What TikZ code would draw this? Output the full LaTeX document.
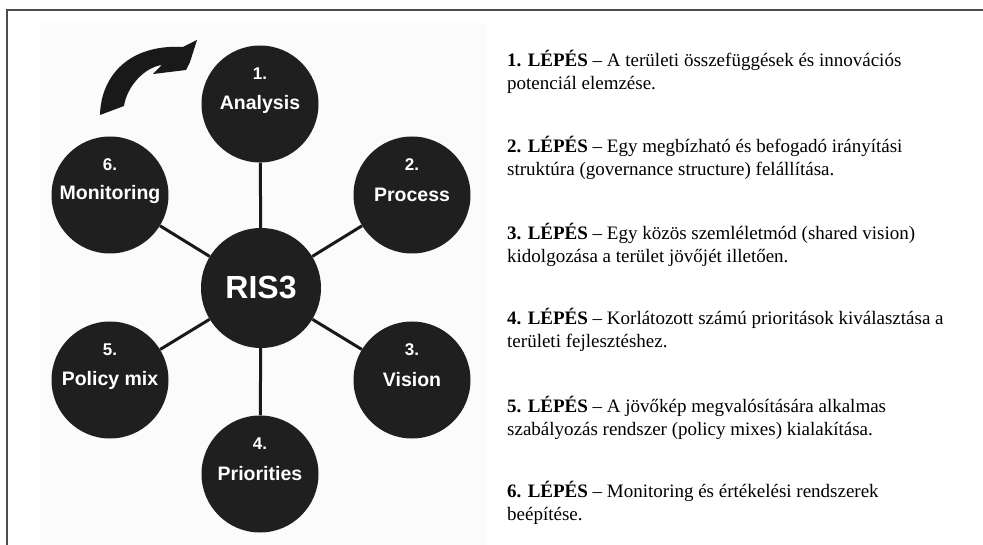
\documentclass[tikz,border=0pt]{standalone}
\usepackage{fontspec}
\setmainfont{Liberation Serif}
\newfontfamily\labelfont{Liberation Sans}
\usetikzlibrary{positioning,calc}

\tikzset{
  stepnode/.style={circle,fill=black!88,minimum size=117pt,inner sep=0pt,
                   text=white,font=\labelfont\bfseries\fontsize{19.5}{22}\selectfont},
  numlabel/.style={text=white,inner sep=0pt,
                   font=\labelfont\bfseries\fontsize{17}{20}\selectfont},
  spoke/.style={line width=3pt,black!90},
  steptext/.style={anchor=base west,align=left,inner sep=0pt,
                   font=\fontsize{19}{23}\selectfont},
}

\begin{document}
\begin{tikzpicture}[x=1pt,y=-1pt]
\useasboundingbox (0,0) rectangle (983,545);
% Frame: only the top and the left edge show
\draw[line width=2pt,black!70] (983,10) -- (7,10) -- (7,545);
% Faint backdrop behind the wheel
\fill[black!1.5] (40,23) rectangle (487,545);
% Hub and the six steps round it
\node[stepnode,minimum size=120pt,font=\labelfont\bfseries\fontsize{32}{34}\selectfont]
  (ris) at (261,288) {RIS3};
\node[stepnode] (ana) at (260,104) {Analysis};
\node[stepnode] (pro) at (412,195) {Process};
\node[stepnode] (vis) at (412,380) {Vision};
\node[stepnode] (pri) at (260,474) {Priorities};
\node[stepnode] (pol) at (110,380) {Policy mix};
\node[stepnode] (mon) at (110,195) {Monitoring};
% Step numbers above the names
\foreach \n/\k in {ana/1,pro/2,vis/3,pri/4,pol/5,mon/6}
  \node[numlabel] (\n-num) at ([yshift=30pt]\n.center) {\k.};
% Spokes from the hub
\foreach \n in {ana,pro,vis,pri,pol,mon}
  \draw[spoke] (ris) -- (\n);
% Curved arrow from Monitoring towards Analysis
\fill[black!90] (100,115) .. controls (101,75) and (130,44) .. (183,47)
  -- (197,40) -- (190,62) -- (186,70) -- (153,74) -- (162,65)
  .. controls (145,67) and (127,86) .. (124,106) -- cycle;
% The six steps in words (base anchor sits on the last line)
\node[steptext] (s1) at (507,90)
  {\textbf{1. LÉPÉS} – A területi összefüggések és innovációs\\potenciál elemzése.};
\node[steptext] (s2) at (507,176)
  {\textbf{2. LÉPÉS} – Egy megbízható és befogadó irányítási\\struktúra (governance structure) felállítása.};
\node[steptext] (s3) at (507,263)
  {\textbf{3. LÉPÉS} – Egy közös szemléletmód (shared vision)\\kidolgozása a terület jövőjét illetően.};
\node[steptext] (s4) at (507,348)
  {\textbf{4. LÉPÉS} – Korlátozott számú prioritások kiválasztása a\\területi fejlesztéshez.};
\node[steptext] (s5) at (507,435)
  {\textbf{5. LÉPÉS} – A jövőkép megvalósítására alkalmas\\szabályozás rendszer (policy mixes) kialakítása.};
\node[steptext] (s6) at (507,520)
  {\textbf{6. LÉPÉS} – Monitoring és értékelési rendszerek\\beépítése.};
\end{tikzpicture}
\end{document}
